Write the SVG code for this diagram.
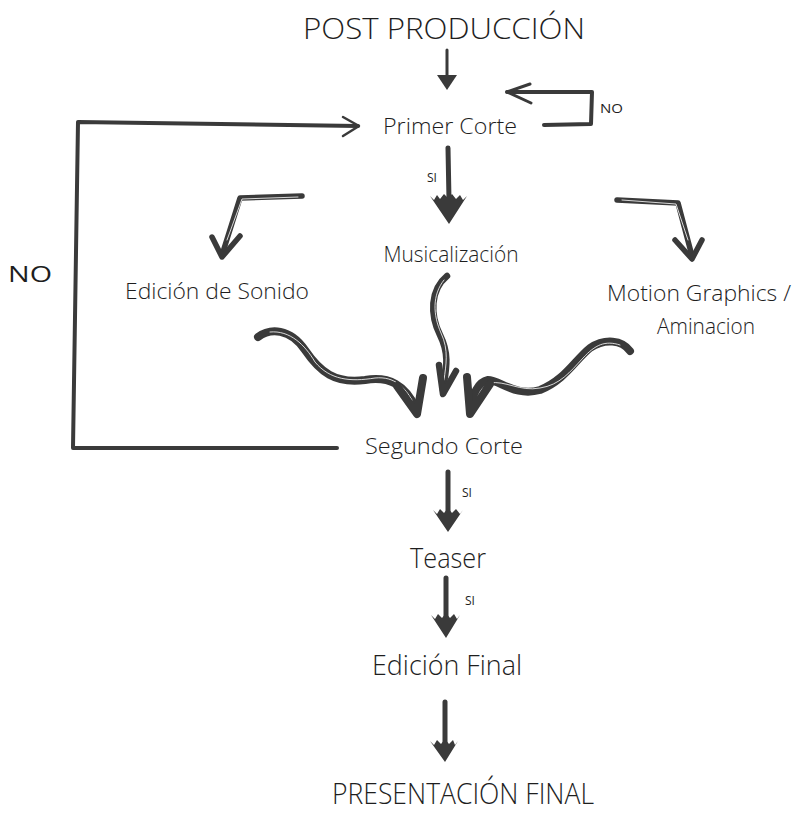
<svg xmlns="http://www.w3.org/2000/svg" width="801" height="813" viewBox="0 0 801 813">
<style>
.t{font-family:"Open Sans","Liberation Sans",sans-serif;font-weight:300;fill:#1e1e1e;text-anchor:middle}
.h{font-size:30px}
.n{font-size:22px}
.s{font-size:12px;font-weight:400;text-anchor:start}
.ln{fill:none;stroke:#3a3a3a;stroke-linecap:round;stroke-linejoin:round}
.th{stroke-width:4}
.bd{stroke-width:5.5}
.tk{stroke-width:8}
.hi{fill:none;stroke:#fff;stroke-width:1;stroke-linecap:round;opacity:0.8}
.hd{fill:#3a3a3a}
</style>
<rect width="801" height="813" fill="#fff"/>
<g id="post-produccion"><text class="t h" x="444" y="39" textLength="282" lengthAdjust="spacingAndGlyphs">POST PRODUCCIÓN</text></g>
<g id="primer-corte"><text class="t n" x="450" y="134" textLength="134" lengthAdjust="spacingAndGlyphs">Primer Corte</text></g>
<g id="musicalizacion"><text class="t n" x="451" y="262" textLength="135" lengthAdjust="spacingAndGlyphs">Musicalización</text></g>
<g id="edicion-sonido"><text class="t n" x="217" y="299" textLength="184" lengthAdjust="spacingAndGlyphs">Edición de Sonido</text></g>
<g id="motion-graphics"><text class="t n" x="699" y="301" textLength="184" lengthAdjust="spacingAndGlyphs">Motion Graphics /</text><text class="t n" x="706" y="334" textLength="98" lengthAdjust="spacingAndGlyphs">Aminacion</text></g>
<g id="segundo-corte"><text class="t n" x="444" y="454" textLength="158" lengthAdjust="spacingAndGlyphs">Segundo Corte</text></g>
<g id="teaser"><text class="t" style="font-size:28px" x="448" y="568" textLength="76" lengthAdjust="spacingAndGlyphs">Teaser</text></g>
<g id="edicion-final"><text class="t" style="font-size:28px" x="447" y="675" textLength="150" lengthAdjust="spacingAndGlyphs">Edición Final</text></g>
<g id="presentacion-final"><text class="t" style="font-size:29px" x="463" y="804" textLength="262" lengthAdjust="spacingAndGlyphs">PRESENTACIÓN FINAL</text></g>
<g id="labels">
<text class="t" style="font-size:22px;font-weight:400" x="30" y="282" textLength="44" lengthAdjust="spacingAndGlyphs">NO</text>
<text class="t s" x="600" y="113" textLength="23" lengthAdjust="spacingAndGlyphs">NO</text>
<text class="t s" x="427" y="182" textLength="10" lengthAdjust="spacingAndGlyphs">SI</text>
<text class="t s" x="462" y="497" textLength="10" lengthAdjust="spacingAndGlyphs">SI</text>
<text class="t s" x="465" y="605" textLength="10" lengthAdjust="spacingAndGlyphs">SI</text>
</g>
<g id="connectors">
<path class="ln" stroke-width="3" d="M447 50 L447 78"/>
<polygon class="hd" points="437,75 457,75 447,90"/>
<path class="ln th" d="M544 125 L591 124 L592 92 L507 92"/>
<path class="ln" stroke-width="3" d="M530 84 L507 92 L531 103"/>
<path class="ln th" d="M337 448 L73 448 L78 122 L358 126"/>
<path class="ln" stroke-width="2.5" d="M343 117 L359 126 L343 136"/>
<path class="ln" stroke-width="5" d="M448 148 L449 200"/>
<polygon class="hd" points="430,196 434,200 437,195 440,199 444,194 448,198 452,194 456,199 460,195 463,200 467,196 449,224"/>
<path class="ln bd" d="M302 196 L240 198 L222 255"/>
<path class="hi" d="M298 197 L242 199 L227 240"/>
<path class="ln bd" d="M212 237 L222 257 L240 236"/>
<path class="ln bd" d="M617 200 L678 203 L692 256"/>
<path class="hi" d="M622 200 L676 204 L688 240"/>
<path class="ln bd" d="M675 240 L692 259 L702 240"/>
<path class="ln tk" d="M258 337 C270 328 290 328 305 350 C320 372 335 384 365 380 C390 376 405 385 416 408"/>
<path class="hi" d="M270 332 C290 330 305 345 315 362 C330 380 350 382 375 378 C395 376 405 388 412 400"/>
<path class="ln tk" d="M397 386 L417 414 L423 378"/>
<path class="ln" stroke-width="6.5" d="M447 276 C430 290 430 315 440 335 C450 355 446 370 443 390"/>
<path class="hi" d="M444 280 C432 295 433 315 441 333 C449 350 446 365 444 380"/>
<path class="ln" stroke-width="6.5" d="M439 365 L443 394 L456 371"/>
<path class="ln tk" d="M630 351 C622 340 605 338 590 348 C575 360 565 380 540 390 C515 397 500 380 488 380 C478 382 472 395 471 408"/>
<path class="hi" d="M620 345 C605 340 595 345 583 358 C570 372 560 385 540 388 C520 392 505 380 490 383"/>
<path class="ln tk" d="M467 377 L470 414 L490 384"/>
<path class="ln" stroke-width="5" d="M448 472 L448 514"/>
<polygon class="hd" points="433,510 437,514 440,509 444,513 448,508 452,513 456,509 460,514 463,510 448,532"/>
<path class="ln" stroke-width="5" d="M446 578 L446 619"/>
<polygon class="hd" points="431,615 435,619 438,614 442,618 446,613 450,618 454,614 457,619 460,615 446,638"/>
<path class="ln" stroke-width="5" d="M445 702 L445 745"/>
<polygon class="hd" points="430,741 434,745 437,740 441,744 445,739 449,744 453,740 455,745 458,741 445,762"/>
</g>
</svg>
